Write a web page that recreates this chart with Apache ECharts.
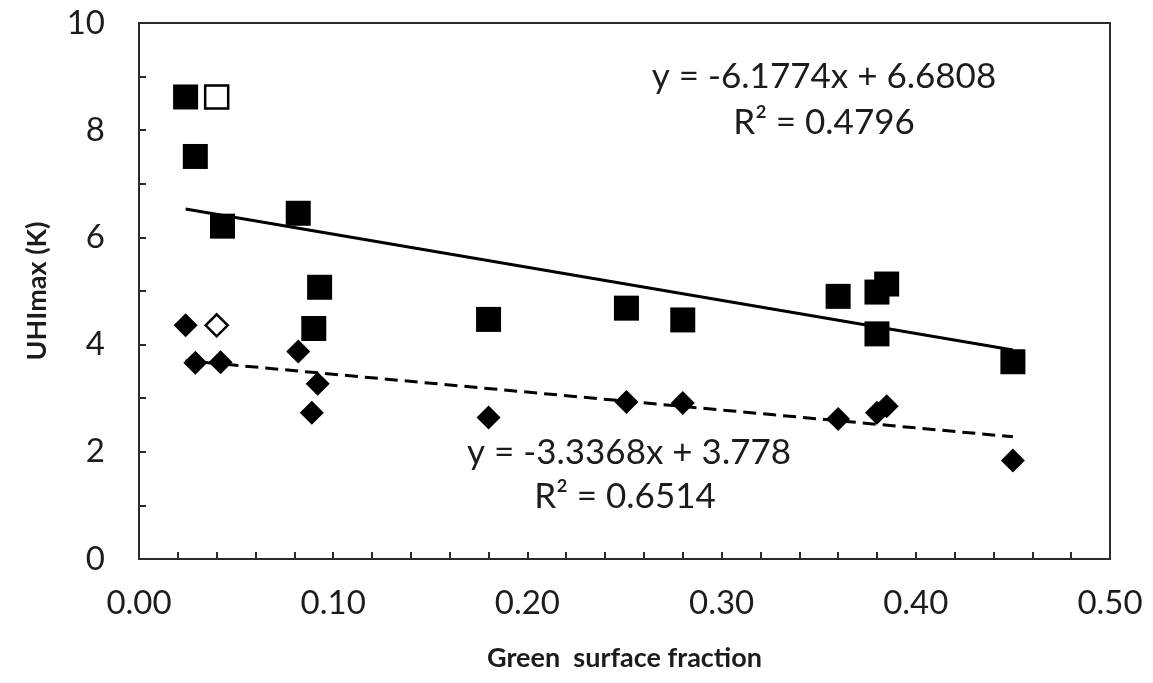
<!DOCTYPE html>
<html>
<head>
<meta charset="utf-8">
<script src="https://cdn.jsdelivr.net/npm/echarts@6/dist/echarts.min.js"></script>
<style>
html,body{margin:0;padding:0;background:#fff;}
#chart{width:1153px;height:683px;}
</style>
</head>
<body>
<div id="chart"></div>
<script>
// Green surface fraction vs UHImax (squares) and a second index (diamonds)
var squaresX = [0.024, 0.029, 0.043, 0.082, 0.090, 0.093, 0.180, 0.251, 0.280, 0.360, 0.380, 0.385, 0.380, 0.450];
var squaresY = [8.62, 7.51, 6.21, 6.45, 4.30, 5.07, 4.47, 4.68, 4.46, 4.90, 4.98, 5.13, 4.20, 3.68];
var openSquareX = [0.040];
var openSquareY = [8.62];
var diamondsX = [0.024, 0.029, 0.042, 0.082, 0.089, 0.092, 0.180, 0.251, 0.280, 0.360, 0.380, 0.385, 0.450];
var diamondsY = [4.36, 3.66, 3.67, 3.87, 2.73, 3.27, 2.64, 2.93, 2.91, 2.61, 2.73, 2.85, 1.84];
var openDiamondX = [0.040];
var openDiamondY = [4.36];
// Trend line end points
var solidTrendX = [0.024, 0.450];
var solidTrendY = [6.53, 3.90];
var dashTrendX = [0.024, 0.450];
var dashTrendY = [3.70, 2.28];
var eqSolid = ['y = -6.1774x + 6.6808', 'R\u00B2 = 0.4796'];
var eqDash = ['y = -3.3368x + 3.778', 'R\u00B2 = 0.6514'];
var xTitle = 'Green  surface fraction';
var yTitle = 'UHImax (K)';
var xLabelStep = 0.1;   // labelled x ticks
var yLabelStep = 2;     // labelled y ticks

function pairs(xs, ys){ return xs.map(function(x,i){ return [x, ys[i]]; }); }
function isMultiple(v, step){ var r = v/step; return Math.abs(r - Math.round(r)) < 1e-6; }

var FONT = 'Lato';
var TXT = '#1c1c1c';
var AX = '#2b2b2b';

var chart = echarts.init(document.getElementById('chart'), null, {renderer:'canvas'});
chart.setOption({
  backgroundColor:'#fff',
  animation:false,
  grid:{left:139, top:23, right:43, bottom:124, show:true, borderColor:AX, borderWidth:2, backgroundColor:'transparent'},
  xAxis:{
    type:'value', min:0, max:0.5, interval:0.02,
    name:xTitle, nameLocation:'middle', nameGap:86,
    nameTextStyle:{fontFamily:FONT, fontWeight:'bold', fontSize:27, color:TXT},
    axisLine:{show:true, lineStyle:{color:AX, width:2}},
    axisTick:{show:true, inside:true, length:7, lineStyle:{color:AX, width:2}},
    splitLine:{show:false},
    axisLabel:{fontFamily:FONT, fontSize:33, color:TXT, margin:28, showMinLabel:true, showMaxLabel:true, interval:0,
      formatter:function(v){ return isMultiple(v, xLabelStep) ? v.toFixed(2) : ''; }}
  },
  yAxis:{
    type:'value', min:0, max:10, interval:1,
    name:yTitle, nameLocation:'middle', nameGap:88, nameRotate:90,
    nameTextStyle:{fontFamily:FONT, fontWeight:'bold', fontSize:27, color:TXT},
    axisLine:{show:true, lineStyle:{color:AX, width:2}},
    axisTick:{show:true, inside:true, length:7, lineStyle:{color:AX, width:2}},
    splitLine:{show:false},
    axisLabel:{fontFamily:FONT, fontSize:33, color:TXT, margin:34, interval:0,
      formatter:function(v){ return isMultiple(v, yLabelStep) ? String(v) : ''; }}
  },
  series:[
    {type:'line', data:pairs(solidTrendX, solidTrendY), showSymbol:false, symbol:'none', z:1,
     lineStyle:{color:'#000', width:3, type:'solid'}},
    {type:'line', data:pairs(dashTrendX, dashTrendY), showSymbol:false, symbol:'none', z:1,
     lineStyle:{color:'#000', width:3, type:[13,7]}},
    {type:'scatter', data:pairs(squaresX, squaresY), symbol:'rect', symbolSize:25, z:3,
     itemStyle:{color:'#000', opacity:1}},
    {type:'scatter', data:pairs(openSquareX, openSquareY), symbol:'rect', symbolSize:23, z:3,
     itemStyle:{color:'#fff', borderColor:'#000', borderWidth:2.5, opacity:1}},
    {type:'scatter', data:pairs(diamondsX, diamondsY), symbol:'diamond', symbolSize:24, z:3,
     itemStyle:{color:'#000', opacity:1}},
    {type:'scatter', data:pairs(openDiamondX, openDiamondY), symbol:'diamond', symbolSize:22, z:3,
     itemStyle:{color:'#fff', borderColor:'#000', borderWidth:2.5, opacity:1}}
  ],
  graphic:[
    {type:'text', x:824, y:77, style:{text:eqSolid[0], font:'35px '+FONT, fill:TXT, align:'center', verticalAlign:'middle'}},
    {type:'text', x:824, y:123, style:{text:eqSolid[1], font:'35px '+FONT, fill:TXT, align:'center', verticalAlign:'middle'}},
    {type:'text', x:629, y:453, style:{text:eqDash[0], font:'35px '+FONT, fill:TXT, align:'center', verticalAlign:'middle'}},
    {type:'text', x:625, y:497, style:{text:eqDash[1], font:'35px '+FONT, fill:TXT, align:'center', verticalAlign:'middle'}}
  ]
});
</script>
</body>
</html>
